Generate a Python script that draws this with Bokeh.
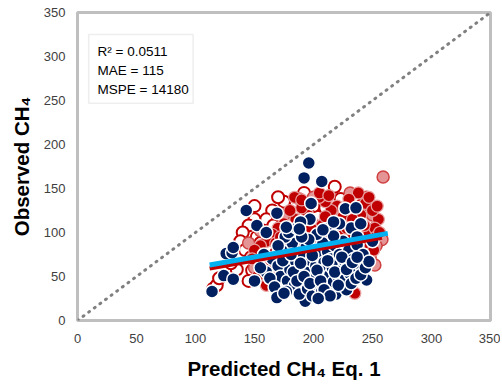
from bokeh.plotting import figure
from bokeh.models import FixedTicker, BoxAnnotation, Label, Range1d
from bokeh.embed import file_html
from bokeh.resources import INLINE

# ---- data (Predicted CH4 Eq. 1, Observed CH4) ----
navy_x = [114,124,126,131,132,132,143,152,169,192,196,207,198,227,236,197,245,193,232,240,150,160,
          165,170,172,175,178,180,182,184,185,187,188,190,191,193,194,195,196,198,199,200,201,202,
          204,205,206,207,208,209,210,211,212,213,214,215,216,217,218,219,220,221,222,223,224,225,
          226,227,228,229,230,231,232,234,235,236,237,238,240,242,244,176,179,186,189,203,211,217,
          222,160,163,167,170,174,177,181,183,186,189,192,197,199,203,206,209,212,214,218,221,224,
          228,233,204,196,190,155,158,247,250,177,188,208,217,237,237,169,175]
navy_y = [33,51,76,77,83,47,125,108,122,162,179,158,133,127,128,115,46,22,105,110,45,100,
          70,62,50,78,45,58,88,40,67,52,30,75,60,44,85,36,55,68,28,48,80,62,
          40,73,55,33,88,66,46,58,78,38,52,70,60,44,85,30,64,50,75,40,57,90,
          68,47,35,62,80,53,42,70,58,48,86,65,52,75,60,95,100,105,112,98,104,96,
          110,55,48,38,85,68,33,75,55,45,65,50,42,74,57,45,35,68,28,55,40,72,
          58,66,25,92,95,60,75,67,90,106,104,103,112,95,72,26,31]

red_x = [235,238,244,255,250,240,246,252,230,225,220,215,210,205,200,195,190,185,180,175,170,165,
         160,155,150,153,148,158,162,168,172,178,182,187,192,197,202,207,212,218,222,228,232,237,
         242,248,253,245,238,230,225,215,208,200,193,186,177,171,164,210,198,188,226,233,243,256,
         251,219,200,180,160,254,247,184,205,190,213,242,220]
red_y = [31,145,133,115,125,120,100,105,138,118,130,125,135,140,110,120,128,115,125,110,105,98,
         90,85,80,51,70,62,72,88,95,100,80,92,100,88,95,108,100,112,98,105,92,100,
         90,85,95,75,82,70,85,88,80,75,82,78,82,75,66,118,105,108,128,115,108,100,
         80,60,60,65,40,130,140,140,145,137,142,62,78]

open_x = [218,192,175,165,150,145,140,138,142,147,152,157,160,166,170,174,178,182,186,190,194,198,
          203,207,212,216,221,225,230,155,148,163,168,172,180,184,188,196,202,210,215,220,226,234,
          240,246,135,130,145,158,176,150,170,185,200,210,223,160,155,240,115,118,120]
open_y = [152,145,135,125,115,108,100,90,80,72,95,105,115,108,95,88,118,105,97,88,110,98,
          118,92,105,95,108,100,112,62,57,82,76,68,90,70,84,74,86,78,68,90,80,96,
          100,115,58,65,45,50,50,130,140,132,130,128,138,100,88,130,36,40,48]

pink_x = [259,231,245,188,250,240,255,248,230,215,200,185,170,160,150,145,155,175,195,205,225,235,
          245,220,180,200,210,258,252,240,253]
pink_y = [163,145,140,138,120,90,90,72,62,50,52,45,50,70,60,88,102,120,125,100,95,110,
          85,120,80,140,55,92,63,55,85]

# fitted lines (end points)
fit_x = [112, 263]
fit_blue_y = [63, 99]
fit_red_x = [112, 258]
fit_red_y = [59, 94]

# 1:1 line
one_x = [0, 350]
one_y = [0, 350]

ticks = [0, 50, 100, 150, 200, 250, 300, 350]
stats = ["R\u00b2 = 0.0511", "MAE = 115", "MSPE = 14180"]

FONT = "Liberation Sans"

p = figure(width=500, height=385, output_backend="svg", toolbar_location=None,
           x_range=Range1d(0, 350), y_range=Range1d(0, 350),
           min_border_left=77, min_border_right=10, min_border_top=12, min_border_bottom=65,
           background_fill_color="white", border_fill_color="white")
p.grid.visible = False
p.outline_line_color = "#bfbfbf"
p.outline_line_width = 3

for ax in (p.xaxis, p.yaxis):
    ax.ticker = FixedTicker(ticks=ticks)
    ax.axis_line_color = None
    ax.major_tick_line_color = None
    ax.minor_tick_line_color = None
    ax.major_tick_out = 0
    ax.major_tick_in = 0
    ax.major_label_text_font = FONT
    ax.major_label_text_font_size = "13px"
    ax.major_label_text_color = "#404040"
    ax.axis_label_text_font = FONT
    ax.axis_label_text_font_size = "20.5px"
    ax.axis_label_text_font_style = "bold"
    ax.axis_label_text_color = "black"

p.xaxis.axis_label = "Predicted CH\u2084 Eq. 1"
p.yaxis.axis_label = "Observed CH\u2084"
p.xaxis.major_label_standoff = 13
p.yaxis.major_label_standoff = 12
p.xaxis.axis_label_standoff = 11
p.yaxis.axis_label_standoff = 8

# 1:1 dotted line
p.line(one_x, one_y, line_color="#808080", line_width=3, line_dash="1 6", line_cap="round")

# points
p.scatter(open_x, open_y, size=12, fill_color="white", line_color="#c00000", line_width=2)
p.scatter(pink_x, pink_y, size=12, fill_color="#e49494", line_color="#d04040", line_width=1.5)
p.scatter(red_x, red_y, size=12, fill_color="#c00000", line_color="#e8a0a0", line_width=1.2)
p.scatter(navy_x, navy_y, size=13, fill_color="#002060", line_color="white", line_width=1.5)

# fitted lines
p.line(fit_red_x, fit_red_y, line_color="#c00000", line_width=4)
p.line(fit_x, fit_blue_y, line_color="#00b0f0", line_width=5)

# statistics box
p.add_layout(BoxAnnotation(left=9.5, right=98, top=325, bottom=247,
                           fill_color="white", fill_alpha=1,
                           line_color="#c8c8c8", line_width=1.5))
for i, s in enumerate(stats):
    p.add_layout(Label(x=17, y=306 - i * 21.5, text=s, text_font=FONT,
                       text_font_size="13.5px", text_color="black",
                       text_baseline="middle"))

open("out.html", "w").write(file_html(p, INLINE))
